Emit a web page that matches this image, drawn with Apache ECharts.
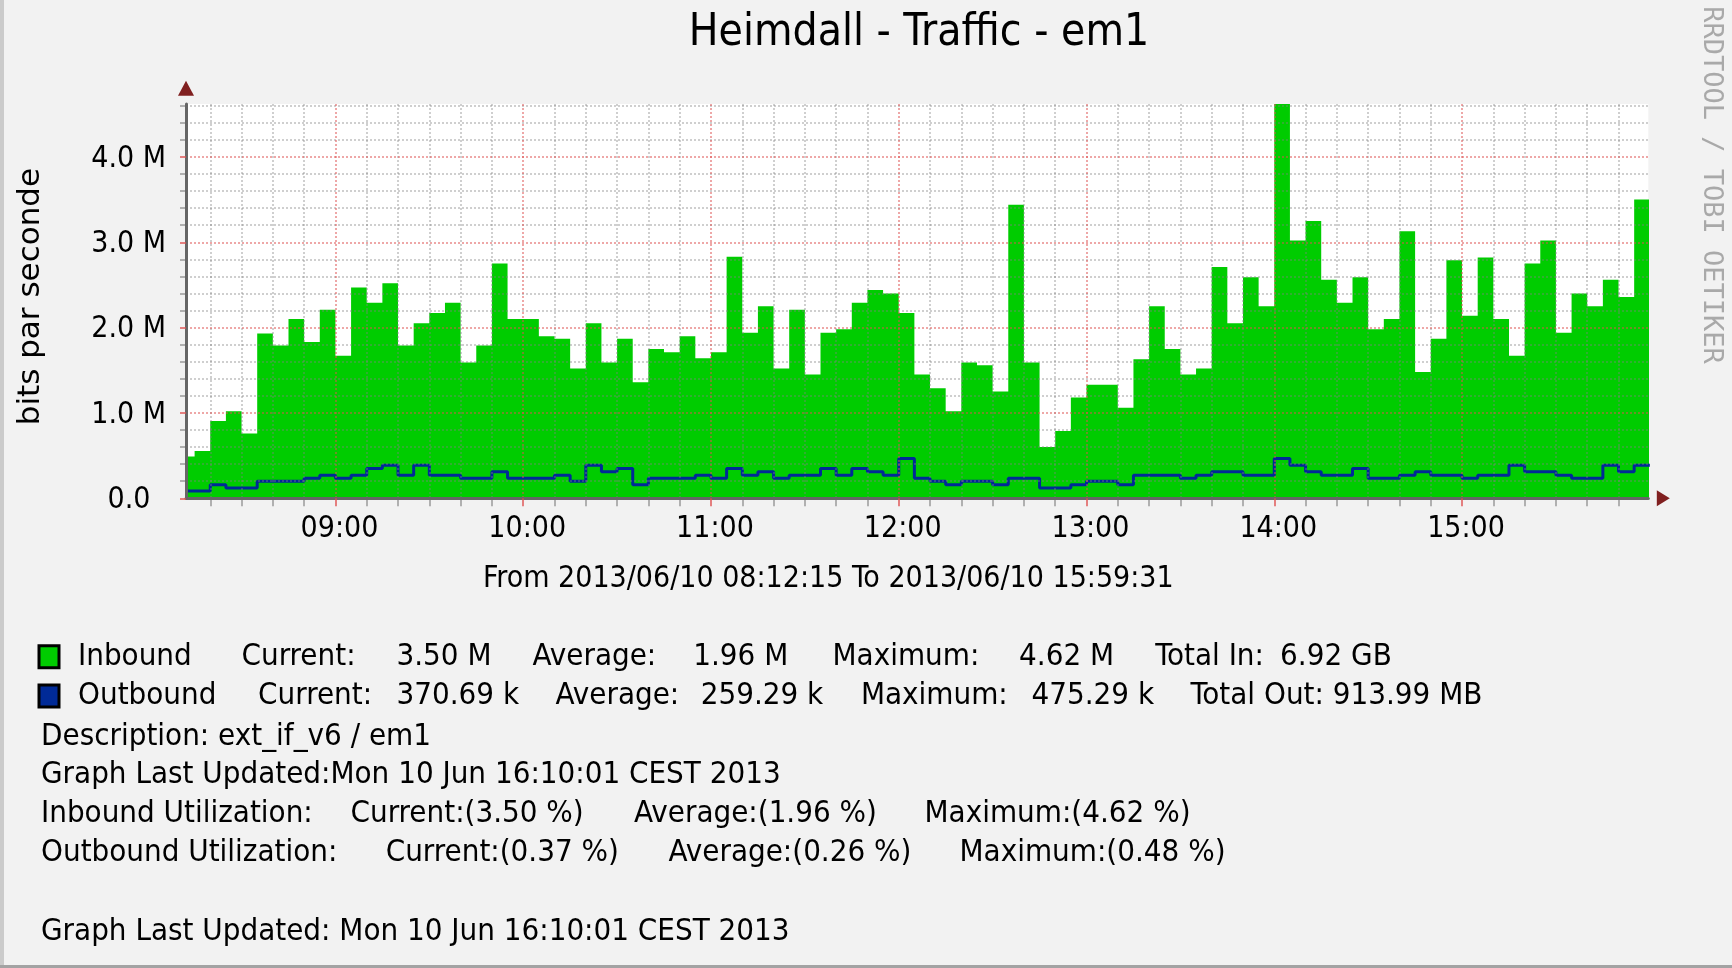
<!DOCTYPE html>
<html><head><meta charset="utf-8">
<script src="https://cdn.jsdelivr.net/npm/echarts@6/dist/echarts.min.js"></script>
<style>
html,body{margin:0;padding:0;background:#f2f2f2;width:1732px;height:968px;overflow:hidden;}
#bl{position:absolute;left:0;top:0;width:4px;height:968px;background:#cbcbcb;}
#bb{position:absolute;left:0;top:965px;width:1732px;height:3px;background:#a3a3a3;}
#chart{position:absolute;left:0;top:0;width:1732px;height:968px;}
</style></head><body>
<div id="bl"></div><div id="bb"></div><div id="chart"></div>
<script>
// ---------------- data ----------------
const titleText = 'Heimdall - Traffic - em1';
const yAxisName = 'bits par seconde';
const rangeText = 'From 2013/06/10 08:12:15 To 2013/06/10 15:59:31';
const watermark = 'RRDTOOL / TOBI OETIKER';

// time in minutes since midnight
const startMinute = 8 * 60 + 12 + 15 / 60;   // 08:12:15
const endMinute = 15 * 60 + 59 + 31 / 60;    // 15:59:31
const firstSampleMinute = 8 * 60 + 15;       // first RRD sample 08:15 (covers 08:10-08:15)
const sampleStepMinutes = 5;

// bits per second, in M
const inbound = [0.49, 0.555, 0.906, 1.02, 0.76, 1.93, 1.79, 2.10, 1.83, 2.21,
  1.67, 2.47, 2.29, 2.52, 1.79, 2.05, 2.17, 2.29, 1.59, 1.79,
  2.75, 2.10, 2.10, 1.90, 1.87, 1.52, 2.05, 1.59, 1.87, 1.36,
  1.75, 1.71, 1.90, 1.64, 1.71, 2.83, 1.94, 2.25, 1.52, 2.21,
  1.45, 1.94, 1.98, 2.29, 2.44, 2.40, 2.17, 1.45, 1.29, 1.02,
  1.59, 1.56, 1.25, 3.44, 1.59, 0.60, 0.79, 1.18, 1.33, 1.33,
  1.06, 1.63, 2.25, 1.75, 1.45, 1.52, 2.71, 2.05, 2.59, 2.25,
  4.62, 3.02, 3.25, 2.56, 2.29, 2.59, 1.98, 2.10, 3.13, 1.48,
  1.87, 2.79, 2.14, 2.82, 2.10, 1.67, 2.75, 3.02, 1.94, 2.40,
  2.25, 2.56, 2.36, 3.50];
const outbound = [0.086, 0.086, 0.16, 0.12, 0.12, 0.20, 0.20, 0.20, 0.234, 0.27,
  0.234, 0.27, 0.35, 0.387, 0.27, 0.387, 0.27, 0.27, 0.234, 0.234,
  0.31, 0.234, 0.234, 0.234, 0.27, 0.20, 0.387, 0.31, 0.35, 0.16,
  0.234, 0.234, 0.234, 0.27, 0.234, 0.35, 0.27, 0.31, 0.234, 0.27,
  0.27, 0.35, 0.27, 0.35, 0.31, 0.27, 0.465, 0.234, 0.20, 0.16,
  0.20, 0.20, 0.16, 0.234, 0.234, 0.12, 0.12, 0.16, 0.20, 0.20,
  0.16, 0.27, 0.27, 0.27, 0.234, 0.27, 0.31, 0.31, 0.27, 0.27,
  0.465, 0.387, 0.31, 0.27, 0.27, 0.35, 0.234, 0.234, 0.27, 0.31,
  0.27, 0.27, 0.234, 0.27, 0.27, 0.387, 0.31, 0.31, 0.27, 0.234,
  0.234, 0.387, 0.31, 0.387];

const hourTicks = [540, 600, 660, 720, 780, 840, 900];
const hourLabels = ['09:00', '10:00', '11:00', '12:00', '13:00', '14:00', '15:00'];
const minorTimeTicks = [500, 510, 520, 530, 550, 560, 570, 580, 590, 610, 620, 630, 640, 650,
  670, 680, 690, 700, 710, 730, 740, 750, 760, 770, 790, 800, 810, 820, 830,
  850, 860, 870, 880, 890, 910, 920, 930, 940, 950];
const yMax = 4.62;
const yMajorTicks = [0, 1, 2, 3, 4];
const yMajorLabels = ['0.0', '1.0 M', '2.0 M', '3.0 M', '4.0 M'];
const yMinorTicks = [0.2, 0.4, 0.6, 0.8, 1.2, 1.4, 1.6, 1.8, 2.2, 2.4, 2.6, 2.8,
  3.2, 3.4, 3.6, 3.8, 4.2, 4.4, 4.6];

const legendStats = {
  Inbound: ['Current:', '3.50 M', 'Average:', '1.96 M', 'Maximum:', '4.62 M', 'Total In:', '6.92 GB'],
  Outbound: ['Current:', '370.69 k', 'Average:', '259.29 k', 'Maximum:', '475.29 k', 'Total Out: 913.99 MB']
};
const infoLines = ['Description: ext_if_v6 / em1', 'Graph Last Updated:Mon 10 Jun 16:10:01 CEST 2013'];
const utilIn = ['Inbound Utilization:', 'Current:(3.50 %)', 'Average:(1.96 %)', 'Maximum:(4.62 %)'];
const utilOut = ['Outbound Utilization:', 'Current:(0.37 %)', 'Average:(0.26 %)', 'Maximum:(0.48 %)'];
const footer = 'Graph Last Updated: Mon 10 Jun 16:10:01 CEST 2013';

// ---------------- layout / style ----------------
const GREEN = '#00CC00', BLUE = '#002A97';
const FONT = "'DejaVu Sans Condensed', 'DejaVu Sans', sans-serif";
const FONT_REG = "'DejaVu Sans', sans-serif";
const MAJOR = 'rgba(222,79,79,0.5)';
const MINOR = 'rgba(128,128,128,0.38)';

const legendCols = {
  Inbound: [76.5, 240, 395, 531, 691.7, 831, 1017.6, 1153.7, 1278.6],
  Outbound: [76.5, 256.6, 395, 554, 699.2, 859.4, 1030, 1189]
};
const legendTextX = 62.5;
const rich = {};
Object.keys(legendCols).forEach(function (name) {
  const cols = legendCols[name];
  rich[name + 'pad'] = {width: cols[0] - legendTextX, fontSize: 31, fontFamily: FONT, lineHeight: 39};
  for (let k = 0; k < cols.length; k++) {
    const st = {fontSize: 31, fontFamily: FONT, color: '#000', lineHeight: 39};
    if (k < cols.length - 1) st.width = cols[k + 1] - cols[k];
    rich[name + 'c' + k] = st;
  }
});

function buildSteps(values) {
  const out = [[startMinute, values[0]]];
  values.forEach(function (v, i) { out.push([firstSampleMinute + i * sampleStepMinutes, v]); });
  return out;
}

const chart = echarts.init(document.getElementById('chart'), null, {renderer: 'canvas'});

function txt(text, x, y, opts) {
  opts = opts || {};
  return {
    type: 'text', x: x, y: y, rotation: opts.rotation || 0, z: 20,
    style: {
      text: text, fill: opts.color || '#000',
      fontSize: opts.size || 31, fontFamily: opts.family || FONT,
      align: opts.align || 'left', textAlign: opts.align || 'left',
      verticalAlign: 'middle', textVerticalAlign: 'middle'
    }
  };
}

const graphics = [
  txt(titleText, 919, 33.6, {size: 44, align: 'center'}),
  txt(rangeText, 828.3, 579, {size: 30, align: 'center'}),
  txt(yAxisName, 30.9, 296.6, {size: 31, align: 'center', rotation: Math.PI / 2, family: FONT_REG}),
  txt(watermark, 1711.3, 185, {size: 27, align: 'center', rotation: -Math.PI / 2, family: "'DejaVu Sans Mono', monospace", color: '#a9a9a9'}),
  txt(infoLines[0], 41, 736.5),
  txt(infoLines[1], 41, 774.8),
  txt(footer, 41, 931.5)
];
const utilInX = [41, 350.5, 634, 924.5];
const utilOutX = [41, 385.7, 668.5, 959.5];
utilIn.forEach(function (s, i) { graphics.push(txt(s, utilInX[i], 814.1)); });
utilOut.forEach(function (s, i) { graphics.push(txt(s, utilOutX[i], 853.1)); });

const option = {
  animation: false,
  backgroundColor: 'transparent',
  grid: {left: 186, right: 83.7, top: 104, bottom: 469.7, show: true, backgroundColor: '#ffffff', borderWidth: 0, containLabel: false, outerBoundsMode: 'none'},
  legend: {
    show: true, orient: 'vertical', left: 37.5, top: 637.3, padding: 0, itemGap: 0.1,
    itemWidth: 20, itemHeight: 22, icon: 'rect', selectedMode: false,
    itemStyle: {borderColor: '#000', borderWidth: 3},
    data: ['Inbound', 'Outbound'],
    formatter: function (name) {
      const parts = [name].concat(legendStats[name]);
      let s = '{' + name + 'pad| }';
      parts.forEach(function (p, k) { s += '{' + name + 'c' + k + '|' + p + '}'; });
      return s;
    },
    textStyle: {fontFamily: FONT, fontSize: 31, color: '#000', lineHeight: 39, rich: rich}
  },
  xAxis: [{
    type: 'value', min: startMinute, max: endMinute, position: 'bottom', z: 10,
    axisLine: {show: true, onZero: false, lineStyle: {color: '#666666', width: 3}},
    axisTick: {show: true, customValues: hourTicks, length: 8, lineStyle: {color: 'rgba(222,79,79,0.7)', width: 2}},
    axisLabel: {show: true, customValues: hourTicks, margin: 16, fontSize: 30, fontFamily: FONT, color: '#000', lineHeight: 30,
      padding: [0, 0, 0, 8],
      formatter: function (v) { return hourLabels[hourTicks.indexOf(v)]; }},
    splitLine: {show: true, lineStyle: {color: MAJOR, width: 2, type: [2, 2]}}
  }, {
    type: 'value', min: startMinute, max: endMinute, position: 'bottom', z: 9,
    axisLine: {show: true, onZero: false, symbol: ['none', 'triangle'], symbolSize: [16, 13], symbolOffset: [0, 15],
      lineStyle: {color: '#802020', width: 0}},
    axisTick: {show: true, customValues: minorTimeTicks, length: 8, lineStyle: {color: 'rgba(110,110,110,0.5)', width: 2}},
    axisLabel: {show: false, customValues: minorTimeTicks},
    splitLine: {show: true, lineStyle: {color: MINOR, width: 2, type: [2, 2]}}
  }],
  yAxis: [{
    type: 'value', min: 0, max: yMax, position: 'left', z: 10,
    axisLine: {show: true, onZero: false, lineStyle: {color: '#666666', width: 3}},
    axisTick: {show: true, customValues: yMajorTicks, length: 6, lineStyle: {color: 'rgba(222,79,79,0.7)', width: 2}},
    axisLabel: {show: true, customValues: yMajorTicks, margin: 20, fontSize: 30, fontFamily: FONT, color: '#000',
      padding: [4, 0, 0, 0],
      rich: {p: {width: 15.5}},
      formatter: function (v) {
        const i = yMajorTicks.indexOf(v);
        return v === 0 ? yMajorLabels[i] + '{p| }' : yMajorLabels[i];
      }},
    splitLine: {show: true, lineStyle: {color: MAJOR, width: 2, type: [2, 2]}}
  }, {
    type: 'value', min: 0, max: yMax, position: 'left', z: 9,
    axisLine: {show: true, onZero: false, symbol: ['none', 'triangle'], symbolSize: [16, 15], symbolOffset: [0, 15.7],
      lineStyle: {color: '#802020', width: 0}},
    axisTick: {show: true, customValues: yMinorTicks, length: 6, lineStyle: {color: 'rgba(110,110,110,0.5)', width: 2}},
    axisLabel: {show: false, customValues: yMinorTicks},
    splitLine: {show: true, lineStyle: {color: MINOR, width: 2, type: [2, 2]}}
  }],
  series: [{
    name: 'Inbound', type: 'line', xAxisIndex: 0, yAxisIndex: 0, data: buildSteps(inbound),
    step: 'start', symbol: 'none', showSymbol: false, clip: true, z: 2,
    color: GREEN, itemStyle: {color: GREEN},
    lineStyle: {width: 0, color: GREEN}, areaStyle: {color: GREEN, opacity: 1}
  }, {
    name: 'Outbound', type: 'line', xAxisIndex: 0, yAxisIndex: 0, data: buildSteps(outbound),
    step: 'start', symbol: 'none', showSymbol: false, clip: true, z: 3,
    color: BLUE, itemStyle: {color: BLUE},
    lineStyle: {width: 3, color: BLUE}
  }],
  graphic: graphics
};
chart.setOption(option);
</script></body></html>
